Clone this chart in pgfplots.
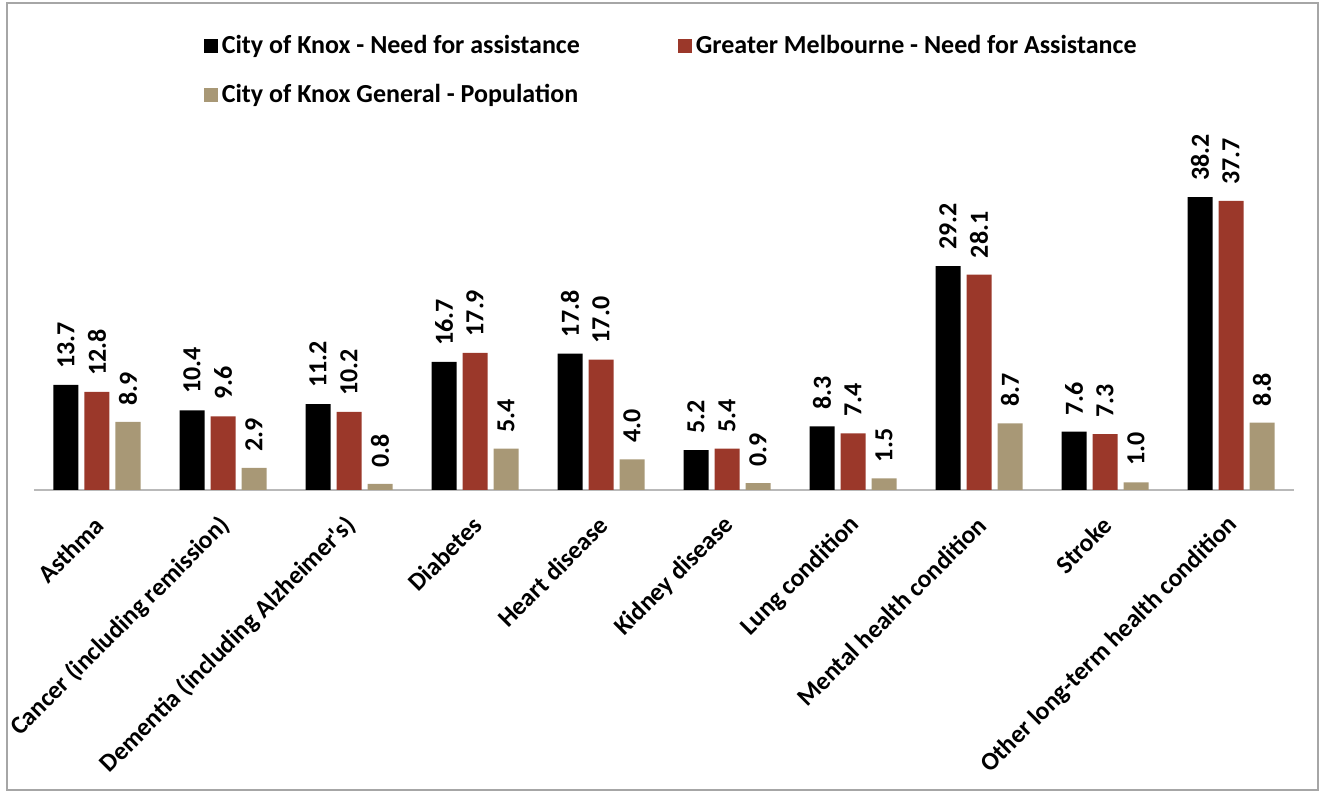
\documentclass[border=0pt]{standalone}
\usepackage{pgfplots}
\pgfplotsset{compat=1.18}
\usepackage{fontspec}
\setmainfont{Carlito}
\definecolor{knox}{RGB}{0,0,0}
\definecolor{melb}{RGB}{155,56,42}
\definecolor{gen}{RGB}{168,152,118}
\begin{document}
\begin{tikzpicture}
\path[use as bounding box] (-17pt,-152.5pt) rectangle (645pt,245pt);
\begin{axis}[
  scale only axis,
  width=630pt, height=172.5pt,
  ybar=3pt, bar width=12.5pt,
  xmin=-0.5, xmax=9.5, ymin=0, ymax=45,
  axis x line*=bottom, axis y line=none,
  x axis line style={draw=gray!55, line width=0.8pt, -},
  xtick=data, major tick length=0pt,
  xticklabels={Asthma, Cancer (including remission), Dementia (including Alzheimer\textquotesingle s), Diabetes, Heart disease, Kidney disease, Lung condition, Mental health condition, Stroke, Other long-term health condition},
  xticklabel style={rotate=45, anchor=east, font=\bfseries\fontsize{12.7}{14}\selectfont, inner sep=2pt, xshift=-8pt, yshift=-12pt},
  /pgf/number format/assume math mode=true,
  nodes near coords={\pgfmathprintnumber[fixed,fixed zerofill,precision=1]{\pgfplotspointmeta}},
  every node near coord/.append style={rotate=90, anchor=west, font=\bfseries\fontsize{13}{15}\selectfont, black, inner xsep=8pt, inner ysep=2pt},
  legend style={draw=none, at={(0.1297,1.342)}, anchor=north west, font=\bfseries\fontsize{13}{15}\selectfont, legend columns=2, row sep=10pt, column sep=0pt, /tikz/every odd column/.append style={column sep=0pt}, /tikz/every even column/.append style={column sep=47pt}},
  legend cell align=left,
  legend image code/.code={\fill[#1, draw=none] (0pt,-3.5pt) rectangle (7pt,3.5pt);},
  clip=false,
]
\addplot[fill=knox, draw=none] coordinates {(0,13.7) (1,10.4) (2,11.2) (3,16.7) (4,17.8) (5,5.2) (6,8.3) (7,29.2) (8,7.6) (9,38.2)};
\addplot[fill=melb, draw=none] coordinates {(0,12.8) (1,9.6) (2,10.2) (3,17.9) (4,17.0) (5,5.4) (6,7.4) (7,28.1) (8,7.3) (9,37.7)};
\addplot[fill=gen, draw=none] coordinates {(0,8.9) (1,2.9) (2,0.8) (3,5.4) (4,4.0) (5,0.9) (6,1.5) (7,8.7) (8,1.0) (9,8.8)};
\legend{City of Knox - Need for assistance, Greater Melbourne - Need for Assistance, City of Knox General - Population}
\end{axis}
\draw[gray!70, line width=0.8pt] (-13.5pt,-150pt) rectangle (642pt,243.5pt);
\end{tikzpicture}
\end{document}
